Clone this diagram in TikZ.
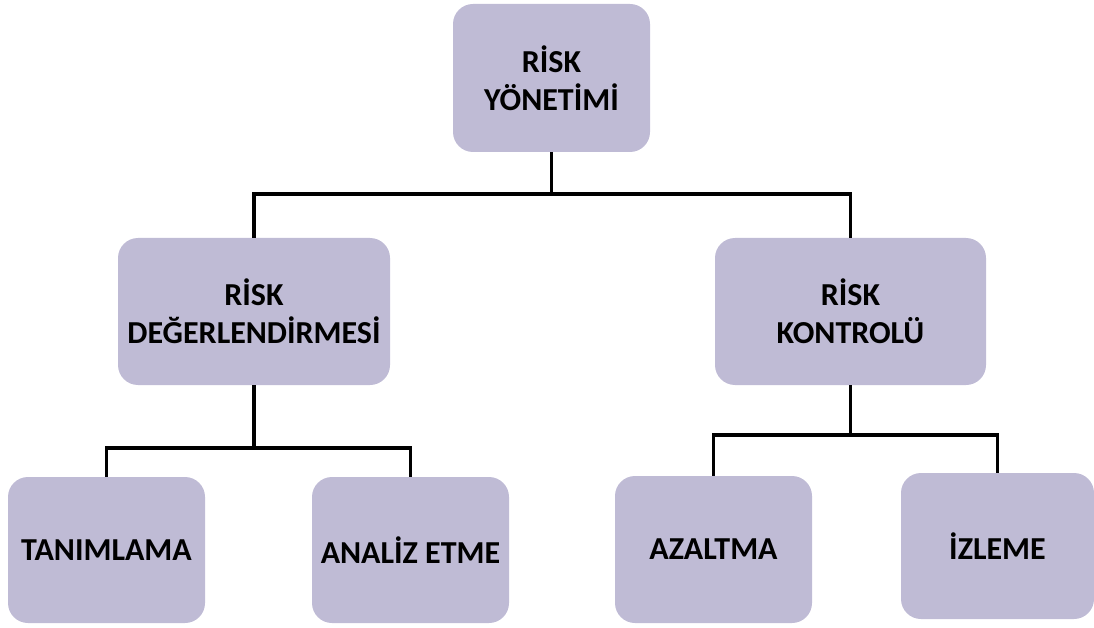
\documentclass[tikz,border=0pt]{standalone}
\usepackage{fontspec}
\setmainfont{Carlito}
\definecolor{kutu}{RGB}{191,187,213}

\begin{document}
\begin{tikzpicture}[x=1pt,y=-1pt,
  kutu/.style={fill=kutu,rounded corners=20pt,align=center,inner sep=0pt,
    font=\bfseries\fontsize{32}{38}\selectfont},
  hat/.style={line width=3.5pt}]
\useasboundingbox (0,0) rectangle (1094,628);
% ust seviye
\node[kutu,minimum width=197pt,minimum height=148pt] (yonetim) at (551.5,78) {R\.ISK\\Y\"ONET\.IM\.I};
% orta seviye
\node[kutu,minimum width=272pt,minimum height=147pt] (degerlendirme) at (254,311.5) {R\.ISK\\DE\u{G}ERLEND\.IRMES\.I};
\node[kutu,minimum width=271pt,minimum height=147pt] (kontrol) at (850.5,311.5) {R\.ISK\\KONTROL\"U};
% alt seviye
\node[kutu,minimum width=197pt,minimum height=146pt] (tanimlama) at (106.5,550) {TANIMLAMA};
\node[kutu,minimum width=197pt,minimum height=146pt] (analiz) at (410.5,550) {ANAL\.IZ ETME};
\node[kutu,minimum width=197pt,minimum height=147pt] (azaltma) at (713.5,549.5) {AZALTMA};
\node[kutu,minimum width=193pt,minimum height=146pt] (izleme) at (997.5,546) {\.IZLEME};
% baglantilar
\coordinate (ustbar) at (551.5,194);
\coordinate (solbar) at (254,448);
\coordinate (sagbar) at (850.5,435);
\begin{scope}[every path/.style={hat}]
\draw (yonetim.south) -- (ustbar) -| (degerlendirme.north);
\draw (ustbar) -| (kontrol.north);
\draw (degerlendirme.south) -- (solbar) -| (tanimlama.north);
\draw (solbar) -| (analiz.north);
\draw (kontrol.south) -- (sagbar) -| (azaltma.north);
\draw (sagbar) -| (izleme.north);
\end{scope}
\end{tikzpicture}
\end{document}
